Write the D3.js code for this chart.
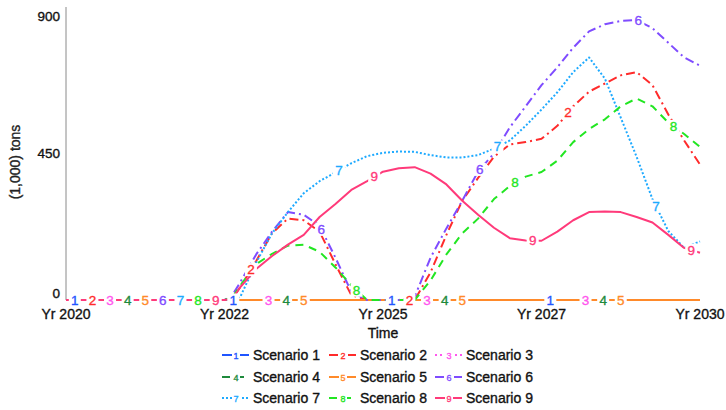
<!DOCTYPE html>
<html>
<head>
<meta charset="utf-8">
<script src="https://cdn.jsdelivr.net/npm/d3@7/dist/d3.min.js"></script>
<style>
  html, body { margin: 0; padding: 0; background: #fff; }
  svg { display: block; font-family: "Liberation Sans", Arial, sans-serif; }
  text { paint-order: stroke; stroke-width: 0.35px; }
</style>
</head>
<body>
<svg id="chart" width="726" height="410"></svg>
<script>
// Simulation output, (1,000) tons per scenario
const years = [2020, 2022.5, 2022.625, 2022.75, 2023, 2023.25, 2023.5, 2023.75, 2024, 2024.25, 2024.5, 2024.75,
  2025, 2025.25, 2025.5, 2025.75, 2026, 2026.25, 2026.5, 2026.75, 2027, 2027.25, 2027.5, 2027.75,
  2028, 2028.25, 2028.5, 2028.75, 2029, 2029.25, 2029.5, 2029.75, 2030];

const scenario1 = [0,0,0,0,0,0,0,0,0,0,0,0,0,0,0,0,0,0,0,0,0,0,0,0,0,0,0,0,0,0,0,0,0];
const scenario2 = [0,0,5,40,120,205,250,245,210,110,15,0,0,0,0,85,200,305,375,440,478,485,495,535,595,640,665,690,700,660,570,490,416];
const scenario3 = [0,0,0,0,0,0,0,0,0,0,0,0,0,0,0,0,0,0,0,0,0,0,0,0,0,0,0,0,0,0,0,0,0];
const scenario4 = [0,0,0,0,0,0,0,0,0,0,0,0,0,0,0,0,0,0,0,0,0,0,0,0,0,0,0,0,0,0,0,0,0];
const scenario5 = [0,0,0,0,0,0,0,0,0,0,0,0,0,0,0,0,0,0,0,0,0,0,0,0,0,0,0,0,0,0,0,0,0];
const scenario6 = [0,0,15,55,140,210,270,262,228,130,25,0,0,0,10,130,220,305,395,450,530,595,660,715,775,825,847,857,860,835,790,745,720];
const scenario7 = [0,0,0,10,115,205,270,328,365,392,420,442,452,456,455,445,438,438,445,465,490,535,585,638,700,745,680,560,440,310,212,160,180];
const scenario8 = [0,0,8,45,110,142,167,170,148,100,45,0,0,0,0,60,140,205,250,310,350,379,393,428,485,525,555,595,619,595,545,510,470];
const scenario9 = [0,0,3,40,95,135,170,200,255,295,338,365,394,405,408,388,355,305,262,222,190,183,182,210,245,270,272,270,255,238,200,160,145];

const seriesNames = ["Scenario 1","Scenario 2","Scenario 3","Scenario 4","Scenario 5","Scenario 6","Scenario 7","Scenario 8","Scenario 9"];
const seriesValues = [scenario1, scenario2, scenario3, scenario4, scenario5, scenario6, scenario7, scenario8, scenario9];

const yTicks = [0, 450, 900];
const xTicks = [2020, 2022.5, 2025, 2027.5, 2030];
const xTickLabels = ["Yr 2020", "Yr 2022", "Yr 2025", "Yr 2027", "Yr 2030"];

// Line appearance per scenario
const colors = ["#1f55ff", "#ff2b2b", "#ff55ee", "#1e8a3c", "#ff8a2a", "#7f4cff", "#1eaaff", "#22e622", "#ff3a7a"];
const dashes = [null, "9,4,2,4", "2,3", "8,6", null, "9,4,2,4", "2,2", "8,6", null];

const svg = d3.select("#chart");
const x = d3.scaleLinear().domain([2020, 2030]).range([66, 700]);
const y = d3.scaleLinear().domain([0, 900]).range([300, 7]);

// Axes
svg.append("line").attr("x1", x(2020)).attr("x2", x(2020)).attr("y1", y(900)).attr("y2", y(0))
  .attr("stroke", "#8a8a8a").attr("stroke-width", 1);
svg.append("line").attr("x1", x(2020)).attr("x2", x(2030)).attr("y1", y(0)).attr("y2", y(0))
  .attr("stroke", "#8a8a8a").attr("stroke-width", 1);

svg.selectAll("text.ytick").data(yTicks).join("text")
  .attr("class", "ytick")
  .attr("x", 60)
  .attr("y", d => d === 900 ? y(d) + 14 : d === 0 ? y(d) - 2 : y(d) + 4.5)
  .attr("text-anchor", "end")
  .attr("font-size", 13.5)
  .attr("fill", "#111").attr("stroke", "#111")
  .text(d => d);

svg.selectAll("text.xtick").data(xTicks).join("text")
  .attr("class", "xtick")
  .attr("x", d => x(d))
  .attr("y", 319)
  .attr("text-anchor", "middle")
  .attr("font-size", 14)
  .attr("fill", "#111").attr("stroke", "#111")
  .text((d, i) => xTickLabels[i]);

svg.append("text").attr("x", 383).attr("y", 338).attr("text-anchor", "middle")
  .attr("font-size", 14).attr("fill", "#111").attr("stroke", "#111").text("Time");

svg.append("text").attr("transform", "translate(20,162) rotate(-90)").attr("text-anchor", "middle")
  .attr("font-size", 14).attr("fill", "#222").attr("stroke", "#222").attr("stroke-width", 0.15).text("(1,000) tons");

// Lines, drawn in scenario order so later scenarios sit on top
const line = d3.line().x((d, i) => x(years[i])).y(d => y(d));
seriesValues.forEach((vals, s) => {
  svg.append("path").datum(vals)
    .attr("d", line)
    .attr("fill", "none")
    .attr("stroke", colors[s])
    .attr("stroke-width", 2)
    .attr("stroke-dasharray", dashes[s])
    .attr("stroke-linejoin", "round");
});

// Numbered markers along each line, staggered across scenarios
const valueAt = (vals, t) => {
  const i = Math.max(1, d3.bisectLeft(years, t));
  const t0 = years[i - 1], t1 = years[i];
  const f = (t - t0) / (t1 - t0);
  return vals[i - 1] + (vals[i] - vals[i - 1]) * f;
};
const step = (2030 - 2020) / 36;
const markers = [];
seriesValues.forEach((vals, s) => {
  for (let k = 0; k < 4; k++) {
    const t = 2020 + step * (s + 0.5 + 9 * k);
    markers.push({ s, t, v: valueAt(vals, t) });
  }
});
const mg = svg.append("g");
markers.forEach(m => {
  const cx = x(m.t), cy = y(m.v);
  mg.append("rect").attr("x", cx - 6).attr("y", cy - 6.5).attr("width", 12).attr("height", 13).attr("fill", "#fff");
  mg.append("text").attr("x", cx).attr("y", cy + 4.5).attr("text-anchor", "middle")
    .attr("font-size", 13.5).attr("fill", colors[m.s]).attr("stroke", colors[m.s]).attr("stroke-width", 0.5)
    .text(m.s + 1);
});

// Legend
const colX = [222, 329, 435];
const rowY = [355, 377, 398];
seriesNames.forEach((name, s) => {
  const lx = colX[s % 3], ly = rowY[Math.floor(s / 3)];
  const g = svg.append("g");
  g.append("line").attr("x1", lx).attr("x2", lx + 27).attr("y1", ly).attr("y2", ly)
    .attr("stroke", colors[s]).attr("stroke-width", 2).attr("stroke-dasharray", dashes[s]);
  g.append("rect").attr("x", lx + 10).attr("y", ly - 5).attr("width", 8).attr("height", 10).attr("fill", "#fff");
  g.append("text").attr("x", lx + 14).attr("y", ly + 3.5).attr("text-anchor", "middle")
    .attr("font-size", 9).attr("fill", colors[s]).attr("stroke", colors[s]).attr("stroke-width", 0.2).text(s + 1);
  g.append("text").attr("x", lx + 31).attr("y", ly + 5).attr("font-size", 14)
    .attr("fill", "#111").attr("stroke", "#111").attr("stroke-width", 0.25).text(name);
});
</script>
</body>
</html>
